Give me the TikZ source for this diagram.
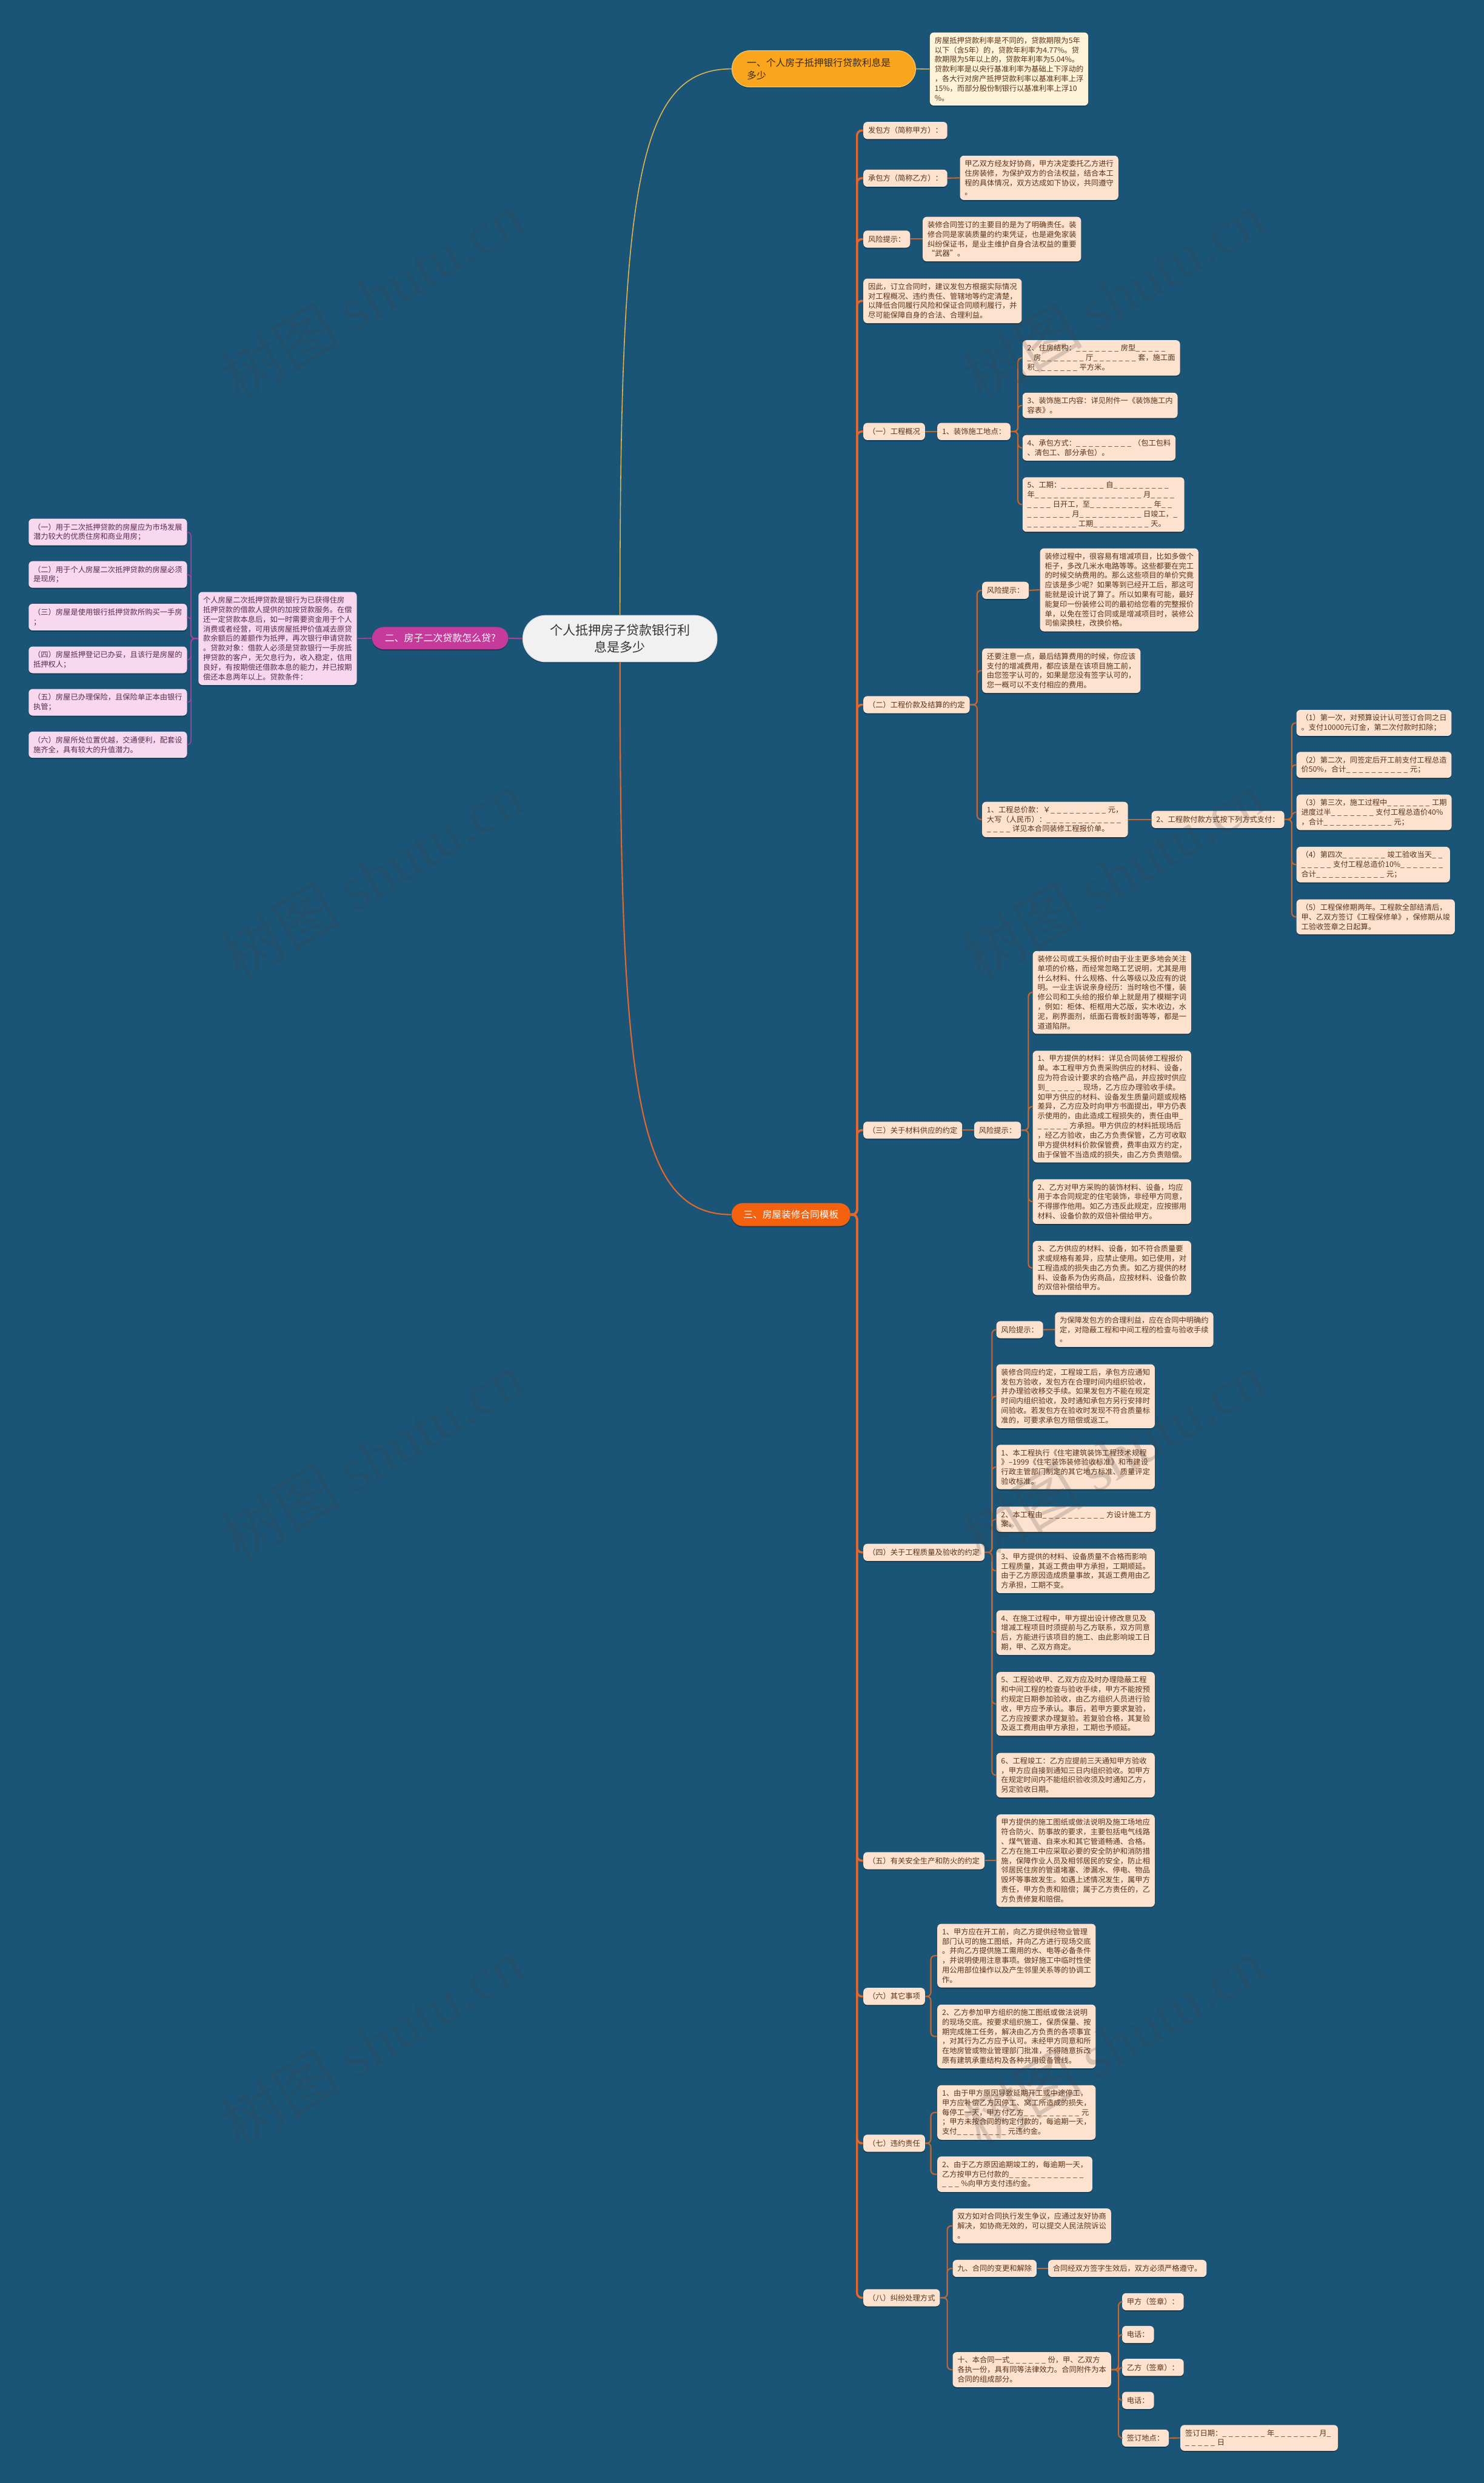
\documentclass[tikz,border=0pt]{standalone}
\usepackage{fontspec}
\setmainfont{Noto Sans CJK SC}
\newfontfamily\wmlatin{Liberation Serif}
\usetikzlibrary{positioning, shadows}

\definecolor{bgblue}{HTML}{1A5578}
\definecolor{peach}{HTML}{FDE2CF}
\definecolor{brownt}{HTML}{5A3418}
\definecolor{spineor}{HTML}{E6672B}
\definecolor{subor}{HTML}{C9652E}
\definecolor{cream}{HTML}{FFF3D9}
\definecolor{pinkbox}{HTML}{F8D8EE}
\definecolor{plumt}{HTML}{5A2A4E}
\definecolor{magen}{HTML}{C63A9C}
\definecolor{magline}{HTML}{A8429A}
\definecolor{amber}{HTML}{F9A61E}
\definecolor{amberedge}{HTML}{F3CF6E}
\definecolor{amberline}{HTML}{E2B44C}
\definecolor{amtext}{HTML}{3B2A14}
\definecolor{redor}{HTML}{F5620F}
\definecolor{rootgray}{HTML}{F1F1F1}

% blank to fill in
\newcount\blcnt
\newcommand{\bl}[1]{\blcnt=#1\relax\loop\_\kern.3em\advance\blcnt by -1\relax\ifnum\blcnt>0 \repeat}

\tikzset{
  softshadow/.style={drop shadow={shadow xshift=0pt, shadow yshift=-0.7pt, opacity=.3, fill=black}},
  txt/.style={rounded corners=2.5pt, inner xsep=3pt, inner ysep=2.8pt, align=left,
    font=\fontsize{4.7}{6.05}\selectfont, softshadow},
  leaf/.style={txt, fill=peach, text=brownt},
  tagbox/.style={leaf, minimum height=10.8pt},
  pinkleaf/.style={txt, fill=pinkbox, text=plumt, inner ysep=3pt},
  creamleaf/.style={txt, fill=cream, text=brownt},
  rootnode/.style={fill=rootgray, draw=black!15, line width=.4pt, text=black!80,
    rounded corners=14.5pt, minimum width=122.7pt, minimum height=29.4pt, inner sep=0pt,
    align=center, font=\fontsize{8.05}{10.4}\selectfont, softshadow},
  pillone/.style={fill=amber, draw=amberedge, line width=.4pt, text=amtext,
    rounded corners=11.5pt, minimum width=116pt, minimum height=23pt, text width=97pt,
    inner xsep=0pt, align=left, font=\fontsize{6.05}{7.9}\selectfont, softshadow},
  pilltwo/.style={fill=magen, text=white, rounded corners=7pt, minimum width=86pt,
    minimum height=14pt, inner xsep=0pt, font=\fontsize{6.1}{7.5}\selectfont, softshadow},
  pillthree/.style={fill=redor, text=white, rounded corners=7pt, minimum width=75pt,
    minimum height=14.5pt, inner xsep=0pt, font=\fontsize{6.0}{7.5}\selectfont, softshadow},
  trunk/.style={draw=spineor, line width=1.3pt, rounded corners=3pt},
  twig/.style={draw=subor, line width=0.8pt, rounded corners=2.5pt},
  plumtwig/.style={draw=magline, line width=0.6pt, rounded corners=2.5pt},
  watermark/.style={text=black!75, opacity=.2, rotate=31, font=\fontsize{38}{44}\selectfont}
}

\begin{document}
\begin{tikzpicture}[x=1pt, y=-1pt]
\fill[bgblue] (0,0) rectangle (937,1568);
\useasboundingbox (0,0) rectangle (937,1568);

% centre and main branches
\node[rootnode] (root) at (391.5,403.3) {个人抵押房子贷款银行利\\息是多少};
\node[pillone, anchor=west] (b1) at (462,43.5) {一、个人房子抵押银行贷款利息是\\多少};
\node[pilltwo] (b2) at (278,403) {二、房子二次贷款怎么贷?};
\node[pillthree] (b3) at (499.5,767) {三、房屋装修合同模板};

% branch one
\node[creamleaf, anchor=west] (b1t) at (587,43.6) {房屋抵押贷款利率是不同的，贷款期限为5年\\以下（含5年）的，贷款年利率为4.77\%。贷\\款期限为5年以上的，贷款年利率为5.04\%。\\贷款利率是以央行基准利率为基础上下浮动的\\，各大行对房产抵押贷款利率以基准利率上浮\\15\%，而部分股份制银行以基准利率上浮10\\\%。};

% branch two
\node[pinkleaf, anchor=east] (b2t) at (225.5,403.2) {个人房屋二次抵押贷款是银行为已获得住房\\抵押贷款的借款人提供的加按贷款服务。在偿\\还一定贷款本息后，如一时需要资金用于个人\\消费或者经营，可用该房屋抵押价值减去原贷\\款余额后的差额作为抵押，再次银行申请贷款\\。贷款对象：借款人必须是贷款银行一手房抵\\押贷款的客户，无欠息行为，收入稳定，信用\\良好，有按期偿还借款本息的能力，并已按期\\偿还本息两年以上。贷款条件：};
\node[pinkleaf, anchor=east] (b2a) at (118.3,336) {（一）用于二次抵押贷款的房屋应为市场发展\\潜力较大的优质住房和商业用房；};
\node[pinkleaf, anchor=east] (b2b) at (118.3,362.8) {（二）用于个人房屋二次抵押贷款的房屋必须\\是现房；};
\node[pinkleaf, anchor=east] (b2c) at (118.3,389.7) {（三）房屋是使用银行抵押贷款所购买一手房\\；};
\node[pinkleaf, anchor=east] (b2d) at (118.3,416.7) {（四）房屋抵押登记已办妥，且该行是房屋的\\抵押权人；};
\node[pinkleaf, anchor=east] (b2e) at (118.3,443.5) {（五）房屋已办理保险，且保险单正本由银行\\执管；};
\node[pinkleaf, anchor=east] (b2f) at (118.3,470.3) {（六）房屋所处位置优越，交通便利，配套设\\施齐全，具有较大的升值潜力。};

% branch three: parties and hints
\node[tagbox, anchor=west] (c1) at (545,82.4) {发包方（简称甲方）：};
\node[tagbox, anchor=west] (c2) at (545,112.5) {承包方（简称乙方）：};
\node[leaf, anchor=west] (c2t) at (606,112.3) {甲乙双方经友好协商，甲方决定委托乙方进行\\住房装修，为保护双方的合法权益，结合本工\\程的具体情况，双方达成如下协议，共同遵守\\。};
\node[tagbox, anchor=west] (c3) at (545,151) {风险提示：};
\node[leaf, anchor=west] (c3t) at (582.5,151) {装修合同签订的主要目的是为了明确责任。装\\修合同是家装质量的约束凭证，也是避免家装\\纠纷保证书，是业主维护自身合法权益的重要\\“武器”。};
\node[leaf, anchor=west] (c4) at (545,190) {因此，订立合同时，建议发包方根据实际情况\\对工程概况、违约责任、管辖地等约定清楚，\\以降低合同履行风险和保证合同顺利履行，并\\尽可能保障自身的合法、合理利益。};

% (一)
\node[tagbox, anchor=west] (c5) at (545,272.5) {（一）工程概况};
\node[tagbox, anchor=west] (c5a) at (591.7,272.5) {1、装饰施工地点：};
\node[leaf, anchor=west] (c5b) at (645.5,226) {2、住房结构：\bl{7}房型\bl{5}\\\bl{1}房\bl{7}厅\bl{7}套，施工面\\积\bl{7}平方米。};
\node[leaf, anchor=west] (c5c) at (645.5,256) {3、装饰施工内容：详见附件一《装饰施工内\\容表》。};
\node[leaf, anchor=west] (c5d) at (645.5,282.8) {4、承包方式：\bl{9}（包工包料\\、清包工、部分承包）。};
\node[leaf, anchor=west] (c5e) at (645.5,318.6) {5、工期：\bl{7}自\bl{9}\\年\bl{17}月\bl{4}\\\bl{4}日开工，至\bl{10}年\bl{2}\\\bl{7}月\bl{10}日竣工，\bl{1}\\\bl{8}工期\bl{9}天。};

% (二)
\node[tagbox, anchor=west] (c6) at (545,445) {（二）工程价款及结算的约定};
\node[tagbox, anchor=west] (c6a) at (620,372.8) {风险提示：};
\node[leaf, anchor=west] (c6at) at (656.6,372.5) {装修过程中，很容易有增减项目，比如多做个\\柜子，多改几米水电路等等。这些都要在完工\\的时候交纳费用的。那么这些项目的单价究竟\\应该是多少呢？如果等到已经开工后，那这可\\能就是设计说了算了。所以如果有可能，最好\\能复印一份装修公司的最初给您看的完整报价\\单，以免在签订合同或是增减项目时，装修公\\司偷梁换柱，改换价格。};
\node[leaf, anchor=west] (c6b) at (620,423.5) {还要注意一点，最后结算费用的时候，你应该\\支付的增减费用，都应该是在该项目施工前，\\由您签字认可的，如果是您没有签字认可的，\\您一概可以不支付相应的费用。};
\node[leaf, anchor=west] (c6c) at (620,517.5) {1、工程总价款：￥\bl{9}元，\\大写（人民币）：\bl{12}\\\bl{4}详见本合同装修工程报价单。};
\node[tagbox, anchor=west] (c6d) at (727,517.5) {2、工程款付款方式按下列方式支付：};
\node[leaf, anchor=west] (c6e) at (818.5,456.5) {（1）第一次，对预算设计认可签订合同之日\\。支付10000元订金，第二次付款时扣除；};
\node[leaf, anchor=west] (c6f) at (818.5,483) {（2）第二次，同签定后开工前支付工程总造\\价50\%，合计\bl{10}元；};
\node[leaf, anchor=west] (c6g) at (818.5,513) {（3）第三次，施工过程中\bl{7}工期\\进度过半\bl{7}支付工程总造价40\%\\，合计\bl{11}元；};
\node[leaf, anchor=west] (c6h) at (818.5,546) {（4）第四次\bl{7}竣工验收当天\bl{2}\\\bl{5}支付工程总造价10\%\bl{7}\\合计\bl{11}元；};
\node[leaf, anchor=west] (c6i) at (818.5,579) {（5）工程保修期两年。工程款全部结清后，\\甲、乙双方签订《工程保修单》，保修期从竣\\工验收签章之日起算。};

% (三)
\node[tagbox, anchor=west] (c7) at (545,713.7) {（三）关于材料供应的约定};
\node[tagbox, anchor=west] (c7a) at (615,713.7) {风险提示：};
\node[leaf, anchor=west] (c7b) at (652,626.7) {装修公司或工头报价时由于业主更多地会关注\\单项的价格，而经常忽略工艺说明，尤其是用\\什么材料、什么规格、什么等级以及应有的说\\明。一业主诉说亲身经历：当时啥也不懂，装\\修公司和工头给的报价单上就是用了模糊字词\\，例如：柜体、柜框用大芯版，实木收边，水\\泥，刷界面剂，纸面石膏板封面等等，都是一\\道道陷阱。};
\node[leaf, anchor=west] (c7c) at (652,698.8) {1、甲方提供的材料：详见合同装修工程报价\\单。本工程甲方负责采购供应的材料、设备，\\应为符合设计要求的合格产品，并应按时供应\\到\bl{6}现场，乙方应办理验收手续。\\如甲方供应的材料、设备发生质量问题或规格\\差异，乙方应及时向甲方书面提出，甲方仍表\\示使用的，由此造成工程损失的，责任由甲\bl{1}\\\bl{5}方承担。甲方供应的材料抵现场后\\，经乙方验收，由乙方负责保管，乙方可收取\\甲方提供材料价款保管费，费率由双方约定，\\由于保管不当造成的损失，由乙方负责赔偿。};
\node[leaf, anchor=west] (c7d) at (652,758.8) {2、乙方对甲方采购的装饰材料、设备，均应\\用于本合同规定的住宅装饰，非经甲方同意，\\不得挪作他用。如乙方违反此规定，应按挪用\\材料、设备价款的双倍补偿给甲方。};
\node[leaf, anchor=west] (c7e) at (652,800.7) {3、乙方供应的材料、设备，如不符合质量要\\求或规格有差异，应禁止使用。如已使用，对\\工程造成的损失由乙方负责。如乙方提供的材\\料、设备系为伪劣商品，应按材料、设备价款\\的双倍补偿给甲方。};

% (四)
\node[tagbox, anchor=west] (c8) at (545,980.3) {（四）关于工程质量及验收的约定};
\node[tagbox, anchor=west] (c8a) at (629,839.7) {风险提示：};
\node[leaf, anchor=west] (c8at) at (666,839.6) {为保障发包方的合理利益，应在合同中明确约\\定，对隐蔽工程和中间工程的检查与验收手续\\。};
\node[leaf, anchor=west] (c8b) at (629,881.7) {装修合同应约定，工程竣工后，承包方应通知\\发包方验收，发包方在合理时间内组织验收，\\并办理验收移交手续。如果发包方不能在规定\\时间内组织验收，及时通知承包方另行安排时\\间验收。若发包方在验收时发现不符合质量标\\准的，可要求承包方赔偿或返工。};
\node[leaf, anchor=west] (c8c) at (629,926.4) {1、本工程执行《住宅建筑装饰工程技术规程\\》–1999《住宅装饰装修验收标准》和市建设\\行政主管部门制定的其它地方标准、质量评定\\验收标准。};
\node[leaf, anchor=west] (c8d) at (629,959.4) {2、本工程由\bl{10}方设计施工方\\案。};
\node[leaf, anchor=west] (c8e) at (629,992) {3、甲方提供的材料、设备质量不合格而影响\\工程质量，其返工费由甲方承担，工期顺延。\\由于乙方原因造成质量事故，其返工费用由乙\\方承担，工期不变。};
\node[leaf, anchor=west] (c8f) at (629,1031) {4、在施工过程中，甲方提出设计修改意见及\\增减工程项目时须提前与乙方联系，双方同意\\后，方能进行该项目的施工、由此影响竣工日\\期，甲、乙双方商定。};
\node[leaf, anchor=west] (c8g) at (629,1076) {5、工程验收甲、乙双方应及时办理隐蔽工程\\和中间工程的检查与验收手续，甲方不能按预\\约规定日期参加验收，由乙方组织人员进行验\\收，甲方应予承认。事后，若甲方要求复验，\\乙方应按要求办理复验。若复验合格，其复验\\及返工费用由甲方承担，工期也予顺延。};
\node[leaf, anchor=west] (c8h) at (629,1121) {6、工程竣工：乙方应提前三天通知甲方验收\\，甲方应自接到通知三日内组织验收。如甲方\\在规定时间内不能组织验收须及时通知乙方，\\另定验收日期。};

% (五)
\node[tagbox, anchor=west] (c9) at (545,1175) {（五）有关安全生产和防火的约定};
\node[leaf, anchor=west] (c9t) at (629,1175) {甲方提供的施工图纸或做法说明及施工场地应\\符合防火、防事故的要求，主要包括电气线路\\、煤气管道、自来水和其它管道畅通、合格。\\乙方在施工中应采取必要的安全防护和消防措\\施，保障作业人员及相邻居民的安全，防止相\\邻居民住房的管道堵塞、渗漏水、停电、物品\\毁坏等事故发生。如遇上述情况发生，属甲方\\责任，甲方负责和赔偿；属于乙方责任的，乙\\方负责修复和赔偿。};

% (六)
\node[tagbox, anchor=west] (c10) at (545,1260.7) {（六）其它事项};
\node[leaf, anchor=west] (c10a) at (591.7,1235) {1、甲方应在开工前，向乙方提供经物业管理\\部门认可的施工图纸，并向乙方进行现场交底\\。并向乙方提供施工需用的水、电等必备条件\\，并说明使用注意事项。做好施工中临时性使\\用公用部位操作以及产生邻里关系等的协调工\\作。};
\node[leaf, anchor=west] (c10b) at (591.7,1286) {2、乙方参加甲方组织的施工图纸或做法说明\\的现场交底。按要求组织施工，保质保量、按\\期完成施工任务，解决由乙方负责的各项事宜\\，对其行为乙方应予认可。未经甲方同意和所\\在地房管或物业管理部门批准，不得随意拆改\\原有建筑承重结构及各种共用设备管线。};

% (七)
\node[tagbox, anchor=west] (c11) at (545,1353.4) {（七）违约责任};
\node[leaf, anchor=west] (c11a) at (591.7,1334) {1、由于甲方原因导致延期开工或中途停工，\\甲方应补偿乙方因停工、窝工所造成的损失，\\每停工一天，甲方付乙方\bl{9}元\\；甲方未按合同的约定付款的，每逾期一天，\\支付\bl{8}元违约金。};
\node[leaf, anchor=west] (c11b) at (591.7,1373) {2、由于乙方原因逾期竣工的，每逾期一天，\\乙方按甲方已付款的\bl{12}\\\bl{3}\%向甲方支付违约金。};

% (八)
\node[tagbox, anchor=west] (c12) at (545,1451) {（八）纠纷处理方式};
\node[leaf, anchor=west] (c12a) at (601.4,1405.6) {双方如对合同执行发生争议，应通过友好协商\\解决，如协商无效的，可以提交人民法院诉讼\\。};
\node[tagbox, anchor=west] (c12b) at (601.4,1432.5) {九、合同的变更和解除};
\node[tagbox, anchor=west] (c12bt) at (661.7,1432.5) {合同经双方签字生效后，双方必须严格遵守。};
\node[leaf, anchor=west] (c12c) at (601.4,1496.4) {十、本合同一式\bl{6}份，甲、乙双方\\各执一份，具有同等法律效力。合同附件为本\\合同的组成部分。};
\node[tagbox, anchor=west] (s1) at (708.4,1453.5) {甲方（签章）：};
\node[tagbox, anchor=west] (s2) at (708.4,1474.2) {电话：};
\node[tagbox, anchor=west] (s3) at (708.4,1495) {乙方（签章）：};
\node[tagbox, anchor=west] (s4) at (708.4,1515.8) {电话：};
\node[tagbox, anchor=west] (s5) at (708.4,1539.6) {签订地点：};
\node[leaf, anchor=west] (s6) at (745.2,1539.5) {签订日期：\bl{7}年\bl{7}月\bl{1}\\\bl{5}日};

% connectors
\draw[amberline, line width=0.6pt] (root.north) .. controls +(0,-270) and +(-60,0) .. (b1.west);
\draw[amberline, line width=0.6pt] (b1.east) -- (b1t.west);
\draw[magline, line width=0.8pt] (root.west) -- (b2.east);
\draw[magline, line width=0.6pt] (b2.west) -- (b2t.east);
\foreach \n in {b2a,b2b,b2c,b2d,b2e,b2f}
  \draw[plumtwig] (b2t.west) -- ++(-4.5,0) |- (\n.east);
\draw[spineor, line width=0.8pt] (root.south) .. controls +(0,270) and +(-60,0) .. (b3.west);
\foreach \n in {c1,c2,c3,c4,c5,c6,c7,c8,c9,c10,c11,c12}
  \draw[trunk] (b3.east) -- ++(4,0) |- (\n.west);
\draw[twig] (c2.east) -- (c2t.west);
\draw[twig] (c3.east) -- (c3t.west);
\draw[twig] (c5.east) -- (c5a.west);
\foreach \n in {c5b,c5c,c5d,c5e}
  \draw[twig] (c5a.east) -- ++(4.5,0) |- (\n.west);
\foreach \n in {c6a,c6b,c6c}
  \draw[twig] (c6.east) -- ++(4.5,0) |- (\n.west);
\draw[twig] (c6a.east) -- (c6at.west);
\draw[twig] (c6c.east) -- (c6d.west);
\foreach \n in {c6e,c6f,c6g,c6h,c6i}
  \draw[twig] (c6d.east) -- ++(4.5,0) |- (\n.west);
\draw[twig] (c7.east) -- (c7a.west);
\foreach \n in {c7b,c7c,c7d,c7e}
  \draw[twig] (c7a.east) -- ++(4.5,0) |- (\n.west);
\foreach \n in {c8a,c8b,c8c,c8d,c8e,c8f,c8g,c8h}
  \draw[twig] (c8.east) -- ++(4.5,0) |- (\n.west);
\draw[twig] (c8a.east) -- (c8at.west);
\draw[twig] (c9.east) -- (c9t.west);
\foreach \n in {c10a,c10b}
  \draw[twig] (c10.east) -- ++(3.5,0) |- (\n.west);
\foreach \n in {c11a,c11b}
  \draw[twig] (c11.east) -- ++(3.5,0) |- (\n.west);
\foreach \n in {c12a,c12b,c12c}
  \draw[twig] (c12.east) -- ++(4.5,0) |- (\n.west);
\draw[twig] (c12b.east) -- (c12bt.west);
\foreach \n in {s1,s2,s3,s4,s5}
  \draw[twig] (c12c.east) -- ++(4.5,0) |- (\n.west);
\draw[twig] (s5.east) -- (s6.west);

% watermarks
\foreach \wx in {235,703}
  \foreach \wy in {187,553,920,1290}
    \node[watermark] (wm-\wx-\wy) at (\wx,\wy) {树图 {\wmlatin shutu.cn}};
\end{tikzpicture}
\end{document}
